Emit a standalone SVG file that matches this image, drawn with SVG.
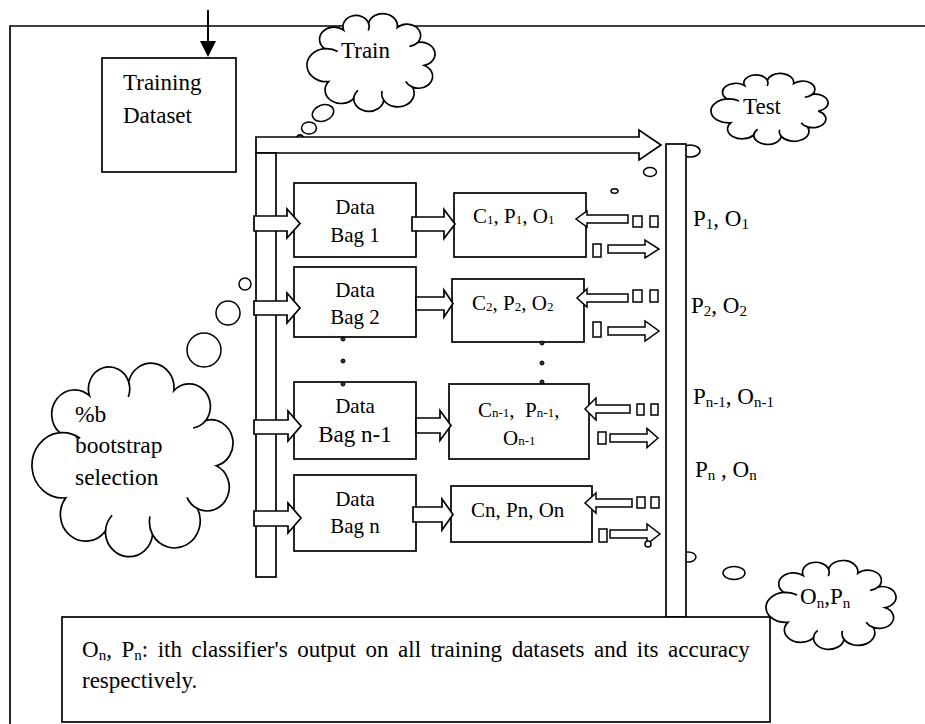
<svg xmlns="http://www.w3.org/2000/svg" width="925" height="724" viewBox="0 0 925 724">
<defs>
<g id="cloud">
<path vector-effect="non-scaling-stroke" d="M12.4,37.7 A11.3,11.3 0 0 1 27.1,20.5 A10.2,10.2 0 0 1 46.5,14.1 A11.35,11.35 0 0 1 68.8,18.2 A10.5,10.5 0 0 1 84.6,32 A10.85,10.85 0 0 1 89.8,53.1 A11,11 0 0 1 80.6,73.1 A12.7,12.7 0 0 1 58.3,85.2 A11.7,11.7 0 0 1 35,83.4 A12.45,12.45 0 0 1 15.4,68 A15.2,15.2 0 0 1 12.4,37.7 Z"/>
<path vector-effect="non-scaling-stroke" fill="none" d="M46.5,14.1 A10.2,10.2 0 0 1 46.3,21.1 M84.6,32 A10.5,10.5 0 0 1 78.3,35.5 M80.6,73.1 A11,11 0 0 1 75.3,67.8 M35,83.4 A11.7,11.7 0 0 1 38.3,76.1 M12.4,37.7 A15.2,15.2 0 0 1 22.5,40.3 M58.3,85.2 A12.7,12.7 0 0 1 57,76.6"/>
</g>
</defs>
<style>
.s{fill:#fff;stroke:#000;stroke-width:1.7}
.o{fill:none;stroke:#000;stroke-width:1.7}
.b{fill:#fff;stroke:#000;stroke-width:1.5}
.cl{fill:#fff;stroke:#000;stroke-width:1.7}
.d{fill:#333;stroke:#000;stroke-width:1}
text{font-family:"Liberation Serif","Times New Roman",serif;fill:#000}
.f23{font-size:23px}
.f21{font-size:21px}
</style>
<rect width="925" height="724" fill="#fff"/>
<path class="o" d="M925,26 H10 V724" stroke-width="2"/>

<g id="input-arrow">
<line x1="208" y1="10" x2="208" y2="44" stroke="#000" stroke-width="2"/>
<polygon points="200,41 216,41 208,57" fill="#000"/>
</g>

<g id="training-dataset">
<rect class="s" x="102" y="58" width="134" height="114"/>
<text class="f23" x="123" y="90">Training</text>
<text class="f23" x="123" y="123">Dataset</text>
</g>

<g id="train-cloud">
<ellipse class="b" cx="323" cy="113" rx="11" ry="8" transform="rotate(-20 323 113)"/>
<ellipse class="b" cx="309" cy="128" rx="7.5" ry="6"/>
<circle class="b" cx="300" cy="138" r="3"/>
<use href="#cloud" class="cl" transform="translate(307,13) scale(1.288,1.0855) translate(1.3,-4.8)"/>
<text class="f23" x="341" y="58">Train</text>
</g>

<g id="test-cloud">
<use href="#cloud" class="cl" transform="translate(711,73) scale(1.178,0.789) translate(1.3,-4.8)"/>
<text class="f23" x="743" y="114">Test</text>
</g>

<g id="bootstrap-cloud">
<circle class="b" cx="245" cy="284" r="6"/>
<circle class="b" cx="228" cy="313" r="12"/>
<circle class="b" cx="204" cy="350" r="17"/>
<use href="#cloud" class="cl" transform="translate(32,362) scale(2.023,2.149) translate(1.3,-4.8)"/>
<text font-size="23.5" x="75" y="422">%b</text>
<text font-size="23.5" x="75" y="453">bootstrap</text>
<text font-size="23.5" x="75" y="485">selection</text>
</g>

<g id="train-bus">
<circle class="b" cx="300" cy="138" r="3"/>
<path class="s" d="M256,137 H639 V130 L661,145 L639,160 V153 H256 Z"/>
<rect class="s" x="256" y="153" width="20" height="424"/>
</g>

<g id="test-bus">
<ellipse class="b" cx="690" cy="151" rx="10" ry="6"/>
<ellipse class="b" cx="688" cy="557" rx="8" ry="5"/>
<rect class="s" x="666" y="144" width="20" height="473"/>
<ellipse class="b" cx="650" cy="172" rx="6.5" ry="4.5"/>
<ellipse class="b" cx="614.5" cy="191" rx="3.5" ry="2.3"/>
<ellipse class="b" cx="734" cy="573" rx="11" ry="6.5"/>
</g>

<g id="bag1">
<rect class="s" x="294" y="183" width="122" height="74"/>
<text class="f21" x="355" y="214" text-anchor="middle">Data</text>
<text class="f21" x="355" y="242" text-anchor="middle">Bag 1</text>
</g>
<g id="bag2">
<rect class="s" x="294" y="267" width="122" height="70"/>
<text class="f21" x="355" y="297" text-anchor="middle">Data</text>
<text class="f21" x="355" y="324" text-anchor="middle">Bag 2</text>
</g>
<g id="bagn1">
<rect class="s" x="294" y="382" width="122" height="77"/>
<text class="f21" x="355" y="413" text-anchor="middle">Data</text>
<text class="f23" x="355" y="442" text-anchor="middle">Bag n-1</text>
</g>
<g id="bagn">
<rect class="s" x="294" y="475" width="122" height="76"/>
<text class="f21" x="355" y="506" text-anchor="middle">Data</text>
<text class="f21" x="355" y="533" text-anchor="middle">Bag n</text>
</g>

<g id="c1">
<rect class="s" x="454" y="193" width="132" height="64"/>
<text class="f21" x="473" y="223">C<tspan font-size="13" dy="1">1</tspan><tspan dy="-1">, P</tspan><tspan font-size="13" dy="1">1</tspan><tspan dy="-1">, O</tspan><tspan font-size="13" dy="1">1</tspan></text>
</g>
<g id="c2">
<rect class="s" x="452" y="279" width="132" height="63"/>
<text class="f21" x="472" y="310">C<tspan font-size="13" dy="1">2</tspan><tspan dy="-1">, P</tspan><tspan font-size="13" dy="1">2</tspan><tspan dy="-1">, O</tspan><tspan font-size="13" dy="1">2</tspan></text>
</g>
<g id="cn1">
<rect class="s" x="449" y="384" width="140" height="75"/>
<text class="f21" x="478" y="417">C<tspan font-size="13">n-1</tspan>,&#160; P<tspan font-size="13">n-1</tspan>,</text>
<text class="f21" x="503" y="445">O<tspan font-size="13">n-1</tspan></text>
</g>
<g id="cn">
<rect class="s" x="451" y="486" width="141" height="56"/>
<text class="f21" x="471" y="517">Cn, Pn, On</text>
</g>

<g id="dots">
<circle class="d" cx="343" cy="339" r="2"/>
<circle class="d" cx="343" cy="361" r="2"/>
<circle class="d" cx="343" cy="384" r="2"/>
<circle class="d" cx="542" cy="343" r="2"/>
<circle class="d" cx="542" cy="363" r="2"/>
<circle class="d" cx="542" cy="382" r="2"/>
</g>

<g id="connectors">
<path class="s" d="M254,216 H287 V209 L300,223.5 L287,238 V231 H254 Z"/>
<path class="s" d="M254,301 H287 V293 L300,308 L287,323 V315 H254 Z"/>
<path class="s" d="M254,420 H288 V411 L301,426 L288,441 V434 H254 Z"/>
<path class="s" d="M254,511 H288 V503 L301,518 L288,533 V526 H254 Z"/>
<path class="s" d="M412,217 H444 V209.5 L455,224 L444,238.5 V231 H412 Z"/>
<path class="s" d="M416,297 H444 V290 L453,303.5 L444,317 V310 H416 Z"/>
<path class="s" d="M416,418 H440 V410.5 L451,425.5 L440,440.5 V433 H416 Z"/>
<path class="s" d="M413,507 H442 V499 L453,514.5 L442,530 V522 H413 Z"/>
<path class="b" d="M628,215 H587 V211 L576,219 L587,227 V223 H628 Z"/>
<rect class="b" x="633" y="216" width="9" height="11"/>
<rect class="b" x="650" y="216" width="8" height="11"/>
<path class="b" d="M628,294 H587 V289 L577,298 L587,307 V302 H628 Z"/>
<rect class="b" x="633" y="290" width="9" height="12"/>
<rect class="b" x="650" y="290" width="8" height="12"/>
<path class="b" d="M630,405 H596 V398 L585,409 L596,420 V413 H630 Z"/>
<rect class="b" x="637" y="404" width="7" height="11"/>
<rect class="b" x="651" y="404" width="7" height="11"/>
<path class="b" d="M632,499 H596 V493 L585,503 L596,513 V507 H632 Z"/>
<rect class="b" x="637" y="497" width="8" height="11"/>
<rect class="b" x="651" y="497" width="8" height="11"/>
<rect class="b" x="593" y="244" width="8" height="13"/>
<path class="b" d="M608,245 H645 V240 L659,249 L645,258 V253 H608 Z"/>
<rect class="b" x="593" y="322" width="8" height="15"/>
<path class="b" d="M608,327 H645 V321 L659,331 L645,341 V335 H608 Z"/>
<rect class="b" x="598" y="432" width="8" height="12"/>
<path class="b" d="M610,434 H647 V428.5 L658,438 L647,447.5 V442 H610 Z"/>
<rect class="b" x="599" y="529" width="8" height="13"/>
<path class="b" d="M610,530 H647 V524 L660,534 L647,544 V538 H610 Z"/>
<circle class="b" cx="648" cy="544" r="3"/>
</g>

<g id="outputs">
<text class="f23" x="693" y="226">P<tspan font-size="15" dy="3">1</tspan><tspan dy="-3">, O</tspan><tspan font-size="15" dy="3">1</tspan></text>
<text class="f23" x="691" y="313">P<tspan font-size="15" dy="3">2</tspan><tspan dy="-3">, O</tspan><tspan font-size="15" dy="3">2</tspan></text>
<text class="f23" x="693" y="404">P<tspan font-size="15" dy="3">n-1</tspan><tspan dy="-3">, O</tspan><tspan font-size="15" dy="3">n-1</tspan></text>
<text class="f23" x="695" y="477">P<tspan font-size="15" dy="3">n</tspan><tspan dy="-3"> , O</tspan><tspan font-size="15" dy="3">n</tspan></text>
</g>

<g id="legend">
<rect class="s" x="62" y="617" width="708" height="105"/>
<text class="f23" x="82" y="657" word-spacing="3.8">O<tspan font-size="15" dy="3">n</tspan><tspan dy="-3">, P</tspan><tspan font-size="15" dy="3">n</tspan><tspan dy="-3">: ith classifier's output on all training datasets and its accuracy</tspan></text>
<text class="f23" x="82" y="688">respectively.</text>
</g>

<g id="onpn-cloud">
<use href="#cloud" class="cl" transform="translate(766,560) scale(1.3085,0.987) translate(1.3,-4.8)"/>
<text class="f23" x="800" y="604">O<tspan font-size="15" dy="4">n</tspan><tspan dy="-4">,P</tspan><tspan font-size="15" dy="4">n</tspan></text>
</g>
</svg>
